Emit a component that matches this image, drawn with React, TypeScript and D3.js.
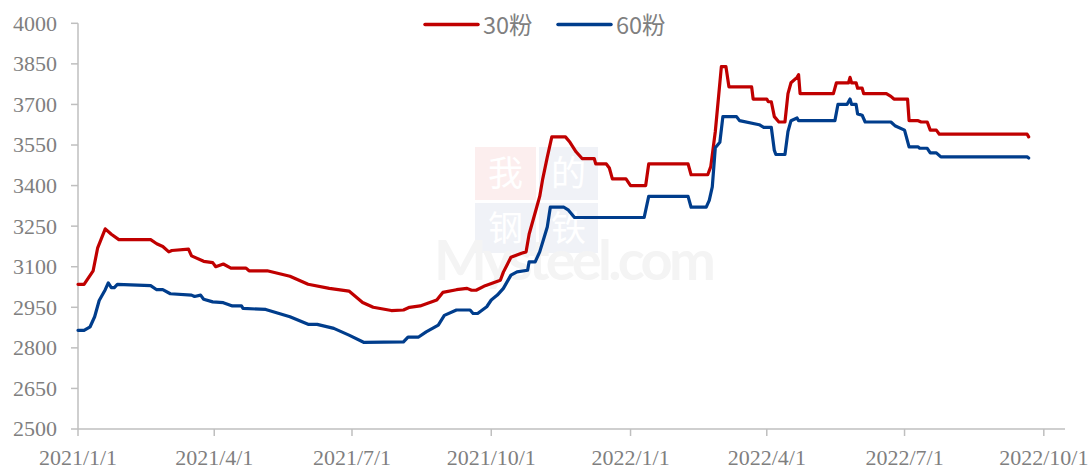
import * as d3 from 'd3';

const W = 1089;
const H = 469;
const MARGIN = { top: 23.3, right: 24, bottom: 40, left: 78 };

const color = {
  red: '#C00000',
  blue: '#003D8C',
  axis: '#BFBFBF',
  text: '#7F7F7F',
};

// 30粉
const dates30 = [
  '2021-01-01', '2021-01-05', '2021-01-11', '2021-01-14', '2021-01-19', '2021-01-23', '2021-01-28', '2021-02-18',
  '2021-02-22', '2021-02-26', '2021-03-02', '2021-03-04', '2021-03-15', '2021-03-17', '2021-03-25', '2021-03-31',
  '2021-04-02', '2021-04-07', '2021-04-12', '2021-04-22', '2021-04-24', '2021-05-06', '2021-05-21', '2021-06-02',
  '2021-06-16', '2021-06-29', '2021-07-08', '2021-07-15', '2021-07-27', '2021-08-04', '2021-08-08', '2021-08-15',
  '2021-08-26', '2021-08-30', '2021-09-08', '2021-09-15', '2021-09-18', '2021-09-21', '2021-09-27', '2021-10-07',
  '2021-10-09', '2021-10-14', '2021-10-21', '2021-10-24', '2021-10-26', '2021-10-31', '2021-11-02', '2021-11-04',
  '2021-11-07', '2021-11-10', '2021-11-19', '2021-11-22', '2021-11-26', '2021-11-30', '2021-12-08', '2021-12-09',
  '2021-12-16', '2021-12-18', '2021-12-20', '2021-12-29', '2022-01-01', '2022-01-11', '2022-01-13', '2022-02-08',
  '2022-02-10', '2022-02-21', '2022-02-23', '2022-02-26', '2022-03-01', '2022-03-02', '2022-03-05', '2022-03-07',
  '2022-03-22', '2022-03-23', '2022-04-01', '2022-04-02', '2022-04-04', '2022-04-06', '2022-04-09', '2022-04-13',
  '2022-04-15', '2022-04-17', '2022-04-21', '2022-04-22', '2022-04-23', '2022-05-15', '2022-05-17', '2022-05-25',
  '2022-05-26', '2022-05-27', '2022-05-30', '2022-05-31', '2022-06-03', '2022-06-04', '2022-06-19', '2022-06-22',
  '2022-06-24', '2022-07-03', '2022-07-04', '2022-07-10', '2022-07-12', '2022-07-16', '2022-07-18', '2022-07-22',
  '2022-07-24', '2022-09-20', '2022-09-21',
];
const values30 = [
  3035, 3035, 3085, 3170, 3240, 3220, 3200, 3200,
  3185, 3175, 3155, 3160, 3165, 3140, 3120, 3115,
  3100, 3110, 3095, 3095, 3085, 3085, 3065, 3035,
  3020, 3010, 2968, 2950, 2938, 2940, 2950, 2955,
  2977, 3005, 3015, 3020, 3013, 3013, 3030, 3050,
  3080, 3135, 3150, 3155, 3220, 3320, 3360, 3425,
  3505, 3580, 3580, 3560, 3525, 3500, 3500, 3480,
  3480, 3465, 3425, 3425, 3400, 3400, 3480, 3480,
  3440, 3440, 3470, 3600, 3780, 3840, 3840, 3765,
  3765, 3720, 3720, 3710, 3710, 3655, 3635, 3635,
  3740, 3780, 3800, 3810, 3740, 3740, 3780, 3780,
  3800, 3780, 3780, 3760, 3760, 3740, 3740, 3730,
  3720, 3720, 3640, 3640, 3635, 3635, 3605, 3605,
  3590, 3590, 3580,
];

// 60粉
const dates60 = [
  '2021-01-01', '2021-01-05', '2021-01-09', '2021-01-12', '2021-01-15', '2021-01-19', '2021-01-21', '2021-01-23',
  '2021-01-25', '2021-01-27', '2021-02-18', '2021-02-22', '2021-02-26', '2021-03-03', '2021-03-17', '2021-03-19',
  '2021-03-23', '2021-03-25', '2021-03-31', '2021-04-07', '2021-04-13', '2021-04-19', '2021-04-20', '2021-05-05',
  '2021-05-21', '2021-06-02', '2021-06-08', '2021-06-19', '2021-06-29', '2021-07-09', '2021-08-04', '2021-08-07',
  '2021-08-14', '2021-08-19', '2021-08-27', '2021-08-31', '2021-09-08', '2021-09-17', '2021-09-19', '2021-09-22',
  '2021-09-28', '2021-10-01', '2021-10-05', '2021-10-09', '2021-10-14', '2021-10-18', '2021-10-25', '2021-10-26',
  '2021-10-30', '2021-11-02', '2021-11-05', '2021-11-07', '2021-11-09', '2021-11-18', '2021-11-21', '2021-11-25',
  '2022-01-10', '2022-01-13', '2022-02-08', '2022-02-10', '2022-02-20', '2022-02-22', '2022-02-24', '2022-02-26',
  '2022-03-01', '2022-03-03', '2022-03-12', '2022-03-14', '2022-03-27', '2022-03-30', '2022-04-04', '2022-04-06',
  '2022-04-07', '2022-04-13', '2022-04-15', '2022-04-17', '2022-04-21', '2022-04-22', '2022-05-16', '2022-05-18',
  '2022-05-24', '2022-05-26', '2022-05-27', '2022-05-30', '2022-05-31', '2022-06-03', '2022-06-05', '2022-06-22',
  '2022-06-25', '2022-07-01', '2022-07-04', '2022-07-10', '2022-07-11', '2022-07-16', '2022-07-18', '2022-07-22',
  '2022-07-25', '2022-09-20', '2022-09-21',
];
const values60 = [
  2865, 2865, 2878, 2915, 2975, 3015, 3040, 3023,
  3023, 3035, 3030, 3015, 3015, 3000, 2995, 2990,
  2995, 2980, 2970, 2967, 2955, 2955, 2946, 2942,
  2915, 2887, 2887, 2872, 2847, 2820, 2822, 2840,
  2840, 2859, 2884, 2920, 2940, 2940, 2927, 2927,
  2952, 2977, 2995, 3020, 3069, 3081, 3087, 3118,
  3118, 3155, 3210, 3247, 3320, 3320, 3309, 3282,
  3282, 3360, 3360, 3320, 3320, 3345, 3395, 3540,
  3560, 3655, 3655, 3640, 3625, 3615, 3615, 3530,
  3515, 3515, 3600, 3640, 3650, 3640, 3640, 3700,
  3700, 3720, 3700, 3700, 3665, 3660, 3635, 3635,
  3620, 3605, 3543, 3543, 3538, 3538, 3521, 3521,
  3506, 3506, 3502,
];

const yTicks = [2500, 2650, 2800, 2950, 3100, 3250, 3400, 3550, 3700, 3850, 4000];
const xTickLabels = ['2021/1/1', '2021/4/1', '2021/7/1', '2021/10/1', '2022/1/1', '2022/4/1', '2022/7/1', '2022/10/1'];
const legendNames = ['30粉', '60粉'];
const watermarkChars = ['我', '的', '钢', '铁'];

const parseDate = d3.timeParse('%Y-%m-%d');
const parseTick = d3.timeParse('%Y/%m/%d');

const App = () => {
  const xScale = d3
    .scaleTime()
    .domain([new Date(2021, 0, 1), new Date(2022, 9, 15)])
    .range([MARGIN.left, W - MARGIN.right]);
  const yScale = d3
    .scaleLinear()
    .domain([2500, 4000])
    .range([429, MARGIN.top]);

  const series = [
    { name: legendNames[0], color: color.red, pts: dates30.map((d, i) => [parseDate(d) as Date, values30[i]] as [Date, number]) },
    { name: legendNames[1], color: color.blue, pts: dates60.map((d, i) => [parseDate(d) as Date, values60[i]] as [Date, number]) },
  ];

  const line = d3
    .line<[Date, number]>()
    .curve(d3.curveLinear)
    .x(d => xScale(d[0]))
    .y(d => yScale(d[1]));

  const y0 = yScale(2500);
  const labelFont = '"Liberation Serif", "Times New Roman", serif';

  // watermark boxes (2x2 grid)
  const boxes = [
    { x: 475, y: 147, w: 61, h: 53, fill: '#FCEEEE' },
    { x: 539, y: 147, w: 59, h: 53, fill: '#F0F2F7' },
    { x: 475, y: 203, w: 61, h: 50, fill: '#F0F2F7' },
    { x: 539, y: 203, w: 59, h: 50, fill: '#F0F2F7' },
  ];

  return (
    <svg width={W} height={H} style={{ position: 'absolute', left: 0, top: 0, background: '#fff' }}>
      {/* watermark */}
      <g>
        {boxes.map((b, i) => (
          <g key={i}>
            <rect x={b.x} y={b.y} width={b.w} height={b.h} fill={b.fill} />
            <text
              x={b.x + b.w / 2}
              y={b.y + b.h / 2}
              dy="0.36em"
              textAnchor="middle"
              fontSize={35}
              fill="#fff"
              fontFamily='"Noto Sans CJK SC"'
            >
              {watermarkChars[i]}
            </text>
          </g>
        ))}
        <text x={434} y={280} fontSize={56} fontWeight={700} fill="#F4F4F4" fontFamily="Lato, sans-serif" textLength={282}>
          Mysteel.com
        </text>
      </g>

      {/* axes */}
      <line x1={MARGIN.left} x2={MARGIN.left} y1={MARGIN.top} y2={y0} stroke={color.axis} strokeWidth={1.5} />
      <line x1={MARGIN.left} x2={W - MARGIN.right} y1={y0} y2={y0} stroke={color.axis} strokeWidth={1.5} />
      {yTicks.map(t => (
        <g key={t}>
          <line x1={MARGIN.left - 7} x2={MARGIN.left} y1={yScale(t)} y2={yScale(t)} stroke={color.axis} strokeWidth={1.5} />
          <text
            x={57}
            y={yScale(t)}
            dy="0.34em"
            textAnchor="end"
            fontSize={22}
            fill={color.text}
            fontFamily={labelFont}
          >
            {t}
          </text>
        </g>
      ))}
      {xTickLabels.map(t => {
        const x = xScale(parseTick(t) as Date);
        return (
          <g key={t}>
            <line x1={x} x2={x} y1={y0} y2={y0 + 7} stroke={color.axis} strokeWidth={1.5} />
            <text x={x} y={465} textAnchor="middle" fontSize={22} fill={color.text} fontFamily={labelFont}>
              {t}
            </text>
          </g>
        );
      })}

      {/* lines */}
      {series.map(s => (
        <path
          key={s.name}
          d={line(s.pts) || ''}
          fill="none"
          stroke={s.color}
          strokeWidth={3.2}
          strokeLinejoin="round"
          strokeLinecap="round"
        />
      ))}

      {/* legend */}
      {series.map((s, i) => (
        <g key={s.name} transform={`translate(${425 + i * 133},24.5)`}>
          <line x1={0} x2={53} y1={0} y2={0} stroke={s.color} strokeWidth={3.5} strokeLinecap="round" />
          <text x={58} y={9.5} fontSize={23.5} fill={color.text} fontFamily='"Noto Sans CJK SC", sans-serif'>
            {s.name}
          </text>
        </g>
      ))}
    </svg>
  );
};

export default App;
